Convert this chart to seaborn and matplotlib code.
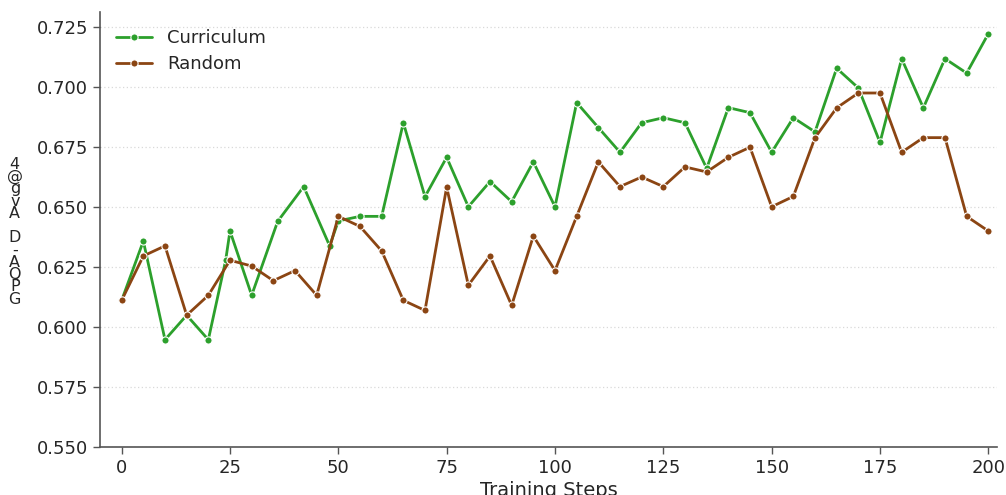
import numpy as np
import pandas as pd
import matplotlib
matplotlib.use("Agg")
import matplotlib.pyplot as plt
import seaborn as sns

# Evaluation steps and scores
curriculum_steps = [0, 5, 10, 15, 20, 24, 25, 30, 36, 42, 48, 50, 55, 60, 65, 70, 75, 80,
                    85, 90, 95, 100, 105, 110, 115, 120, 125, 130, 135, 140, 145, 150,
                    155, 160, 165, 170, 175, 180, 185, 190, 195, 200]
curriculum_scores = [0.6111, 0.6358, 0.5947, 0.6049, 0.5947, 0.6278, 0.6400, 0.6132, 0.6440,
                     0.6585, 0.6338, 0.6442, 0.6461, 0.6461, 0.6851, 0.6543, 0.6707, 0.6501,
                     0.6606, 0.6522, 0.6688, 0.6501, 0.6935, 0.6831, 0.6728, 0.6851, 0.6872,
                     0.6851, 0.6661, 0.6914, 0.6893, 0.6728, 0.6872, 0.6813, 0.7078, 0.6996,
                     0.6769, 0.7118, 0.6913, 0.7118, 0.7058, 0.7222]

random_steps = list(range(0, 201, 5))
random_scores = [0.6111, 0.6296, 0.6338, 0.6049, 0.6132, 0.6278, 0.6254, 0.6193, 0.6235,
                 0.6132, 0.6461, 0.6419, 0.6317, 0.6111, 0.6069, 0.6583, 0.6174, 0.6296,
                 0.6090, 0.6379, 0.6235, 0.6461, 0.6688, 0.6585, 0.6625, 0.6585, 0.6667,
                 0.6646, 0.6707, 0.6749, 0.6501, 0.6544, 0.6789, 0.6913, 0.6975, 0.6975,
                 0.6728, 0.6789, 0.6789, 0.6461, 0.6400]

methods = ["Curriculum", "Random"]
colors = {"Curriculum": "#2ca02c", "Random": "#8b4513"}

x_ticks = [0, 25, 50, 75, 100, 125, 150, 175, 200]
y_ticks = [0.550, 0.575, 0.600, 0.625, 0.650, 0.675, 0.700, 0.725]
x_label = "Training Steps"
y_label = "GPQA-D Avg@4"

df = pd.concat([
    pd.DataFrame({"step": curriculum_steps, "score": curriculum_scores, "method": methods[0]}),
    pd.DataFrame({"step": random_steps, "score": random_scores, "method": methods[1]}),
], ignore_index=True)

sns.set_style("ticks")
plt.rcParams["font.family"] = ["DejaVu Sans"]

fig = plt.figure(figsize=(10.06, 4.95), dpi=100)
ax = fig.add_axes([100 / 1006, 48 / 495, 897 / 1006, 435 / 495])

sns.lineplot(data=df, x="step", y="score", hue="method", hue_order=methods,
             palette=colors, marker="o", markersize=5.2, markeredgecolor="white",
             markeredgewidth=0.8, linewidth=2, ax=ax)

ax.set_xlim(-5, 202)
ax.set_ylim(0.55, 0.73125)
ax.set_xticks(x_ticks)
ax.set_yticks(y_ticks)
ax.set_yticklabels([f"{v:.3f}" for v in y_ticks])
ax.tick_params(axis="both", labelsize=13, length=5, width=1, color="#555555")
ax.grid(axis="y", linestyle=(0, (1, 2)), color="#d9d9d9", linewidth=0.9)
ax.grid(axis="x", visible=False)
for side in ("top", "right"):
    ax.spines[side].set_visible(False)
for side in ("left", "bottom"):
    ax.spines[side].set_color("#555555")
    ax.spines[side].set_linewidth(1.2)

ax.set_xlabel(x_label, fontsize=14, labelpad=3)
ax.set_ylabel("\n".join(reversed(y_label)), rotation=0, fontsize=11.5,
              linespacing=0.77, va="center", ha="center")
ax.yaxis.set_label_coords(-0.095, 0.495)

ax.legend(loc="upper left", bbox_to_anchor=(0.004, 0.99), frameon=False, fontsize=13,
          handlelength=2.0, borderaxespad=0.3, labelspacing=0.45)

fig.savefig("out.png", dpi=100)
